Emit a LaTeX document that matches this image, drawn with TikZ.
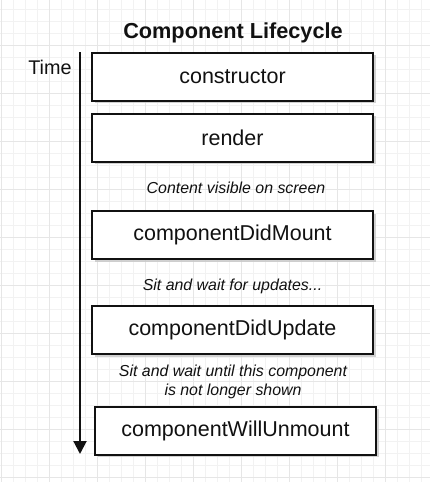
\documentclass[tikz,border=0pt]{standalone}
\usepackage{fontspec}
\setmainfont{Liberation Sans}
\usetikzlibrary{shadows,arrows.meta}
\definecolor{gridminor}{HTML}{F2F2F2}
\definecolor{gridmajor}{HTML}{E6E6E6}
\definecolor{ink}{HTML}{111111}
\tikzset{
  lcbox/.style={draw=ink, line width=2pt, fill=white, minimum width=281pt, minimum height=48pt,
    inner sep=0pt, font=\fontsize{21.5}{24}\selectfont, text=ink,
    drop shadow={shadow xshift=2.5pt, shadow yshift=-2.5pt, fill=gray!45, opacity=0.8}},
  lcnote/.style={font=\fontsize{15.9}{19}\selectfont\itshape, text=ink, align=center, inner sep=0pt},
  lctitle/.style={font=\fontsize{21.7}{24}\selectfont\bfseries, text=ink, inner sep=0pt},
  lcaxis/.style={draw=ink, line width=2pt, -{Triangle[length=13pt,width=13pt]}}
}
\begin{document}
\begin{tikzpicture}[x=1pt,y=-1pt]
\useasboundingbox (0,0) rectangle (430,482);
\fill[white] (0,0) rectangle (430,482);
% grid
\foreach \i in {0,...,36} {
  \draw[gridminor, line width=0.7pt] ({1+12*\i},0) -- ({1+12*\i},482);
}
\foreach \i in {0,...,40} {
  \draw[gridminor, line width=0.7pt] (0,{9+12*\i}) -- (430,{9+12*\i});
}
\foreach \i in {0,...,9} {
  \draw[gridmajor, line width=0.8pt] ({1+48*\i},0) -- ({1+48*\i},482);
}
\foreach \i in {0,...,10} {
  \draw[gridmajor, line width=0.8pt] (0,{45+48*\i}) -- (430,{45+48*\i});
}
% title
\node[lctitle] (title) at (233,33) {Component Lifecycle};
\node[font=\fontsize{19.8}{22}\selectfont, text=ink, inner sep=0pt] (time) at (50,67) {Time};
% time axis
\coordinate (tstart) at (80,52);
\coordinate (tend) at (80,454);
\draw[lcaxis] (tstart) -- (tend);
% boxes
\node[lcbox] (ctor) at (232.5,76.5) {constructor};
\node[lcbox] (render) at (232.5,137.5) {render};
\node[lcnote] (n1) at (236,188) {Content visible on screen};
\node[lcbox] (mount) at (232.5,235) {componentDidMount};
\node[lcnote] (n2) at (232.5,286) {Sit and wait for updates...};
\node[lcbox] (update) at (232.5,330) {componentDidUpdate};
\node[lcnote] (n3) at (233,381.5) {Sit and wait until this component\\is not longer shown};
\node[lcbox] (unmount) at (235.5,430.5) {componentWillUnmount};
\end{tikzpicture}
\end{document}
